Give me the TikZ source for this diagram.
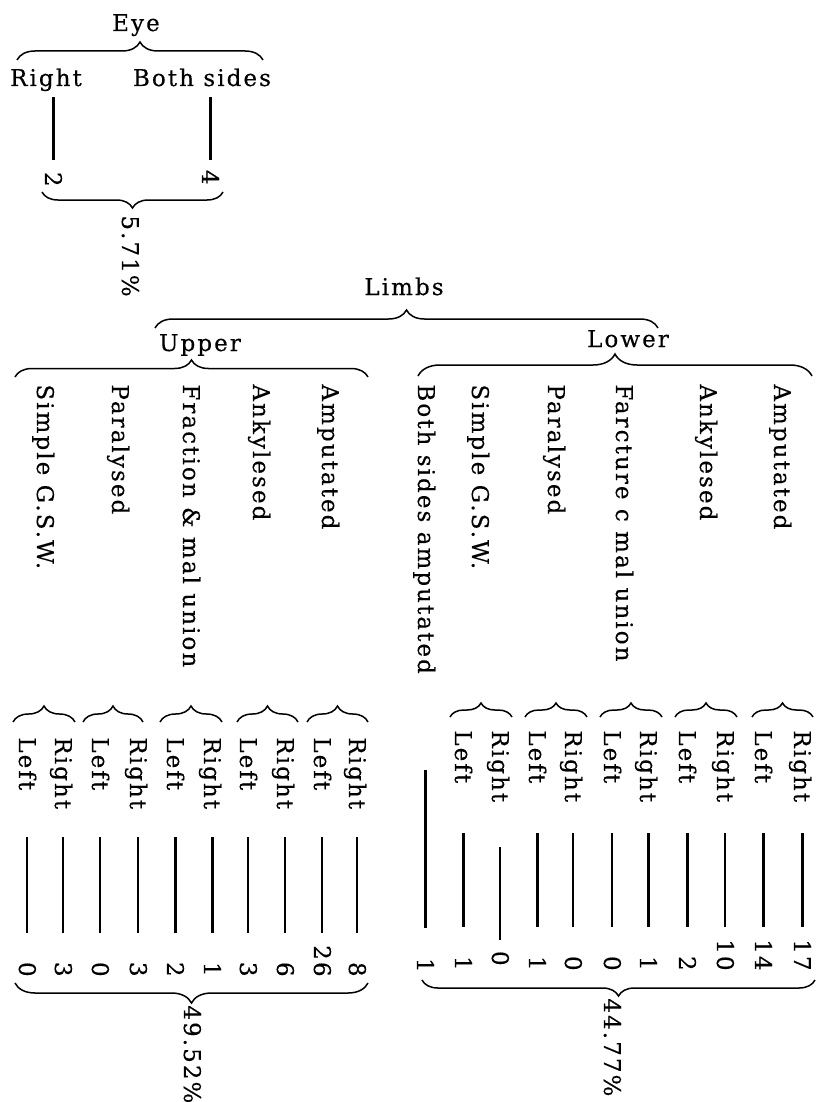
\documentclass[tikz,border=0pt]{standalone}
\usepackage{fontspec}
\setmainfont[LetterSpace=9, FakeBold=0.35]{DejaVu Serif}
\usetikzlibrary{decorations.pathreplacing}

\begin{document}
\begin{tikzpicture}[x=0.5pt, y=-0.5pt,
    every node/.style={font=\fontsize{11.5}{14}\selectfont},
    hlab/.style={anchor=base, inner sep=0pt},
    vlab/.style={rotate=-90, anchor=base west, inner sep=0pt},
    vnum/.style={rotate=-90, anchor=base east, inner sep=0pt},
    brc/.style={decorate, decoration={brace, amplitude=#1}, line width=0.75pt},
    stem/.style={line width=1.05pt}]
  \useasboundingbox (0,0) rectangle (819,1102);

  % eye
  \node[hlab] (eye) at (136,31) {Eye};
  \draw[brc=9pt] (17,60) -- (263,60);
  \node[hlab] (eyeR) at (46,86) {Right};
  \node[hlab] (eyeB) at (202,86) {Both sides};
  \node[vnum] (eyeN1) at (45,187) {2};
  \node[vnum] (eyeN2) at (202,185) {4};
  \coordinate (etop) at (0,97);
  \coordinate (ebot) at (0,160);
  \draw[stem] (eyeN1 |- etop) -- (eyeN1 |- ebot);
  \draw[stem] (eyeN2 |- etop) -- (eyeN2 |- ebot);
  \draw[brc=8pt] (223,192) -- (42,192);
  \node[vlab] (eyeP) at (122,215) {5.71\%};

  % limbs
  \node[hlab] (limbs) at (404,295) {Limbs};
  \draw[brc=9pt] (155,328) -- (658,328);
  \node[hlab] (upper) at (200,351) {Upper};
  \draw[brc=8.5pt] (15,377) -- (368,377);
  \node[hlab] (lower) at (628,347) {Lower};
  \draw[brc=11pt] (418,376) -- (812,376);

  % upper limb
  \node[vlab] (uSim) at (37,384) {Simple G.S.W.};
  \node[vlab] (uPar) at (112,384) {Paralysed};
  \node[vlab] (uFra) at (183,384) {Fraction \& mal union};
  \node[vlab] (uAnk) at (253,384) {Ankylesed};
  \node[vlab] (uAmp) at (322,384) {Amputated};
  \draw[brc=8pt] (13,722) -- (75,722);
  \draw[brc=8pt] (83,722) -- (143,722);
  \draw[brc=8pt] (160,722) -- (222,722);
  \draw[brc=8pt] (237,722) -- (298,722);
  \draw[brc=8pt] (307,722) -- (368,722);
  \node[vlab] (uL1) at (19,737) {Left};
  \node[vlab] (uR1) at (55,737) {Right};
  \node[vlab] (uL2) at (92,737) {Left};
  \node[vlab] (uR2) at (130,737) {Right};
  \node[vlab] (uL3) at (167,737) {Left};
  \node[vlab] (uR3) at (204,737) {Right};
  \node[vlab] (uL4) at (240,737) {Left};
  \node[vlab] (uR4) at (277,737) {Right};
  \node[vlab] (uL5) at (314,737) {Left};
  \node[vlab] (uR5) at (349,737) {Right};
  \node[vnum] (un1) at (19,977) {0};
  \node[vnum] (un2) at (55,977) {3};
  \node[vnum] (un3) at (92,977) {0};
  \node[vnum] (un4) at (130,977) {3};
  \node[vnum] (un5) at (167,977) {2};
  \node[vnum] (un6) at (204,977) {1};
  \node[vnum] (un7) at (240,977) {3};
  \node[vnum] (un8) at (277,977) {6};
  \node[vnum] (un9) at (314,977) {26};
  \node[vnum] (un10) at (349,977) {8};
  \coordinate (utop) at (0,837);
  \coordinate (ubot) at (0,933);
  \draw[stem] (un1 |- utop) -- (un1 |- ubot);
  \draw[stem] (un2 |- utop) -- (un2 |- ubot);
  \draw[stem] (un3 |- utop) -- (un3 |- ubot);
  \draw[stem] (un4 |- utop) -- (un4 |- ubot);
  \draw[stem] (un5 |- utop) -- (un5 |- ubot);
  \draw[stem] (un6 |- utop) -- (un6 |- ubot);
  \draw[stem] (un7 |- utop) -- (un7 |- ubot);
  \draw[stem] (un8 |- utop) -- (un8 |- ubot);
  \draw[stem] (un9 |- utop) -- (un9 |- ubot);
  \draw[stem] (un10 |- utop) -- (un10 |- ubot);
  \draw[brc=10pt] (368,983) -- (15,983);
  \node[vlab] (uP) at (184,1005) {49.52\%};

  % lower limb
  \node[vlab] (lBot) at (418,384) {Both sides amputated};
  \node[vlab] (lSim) at (472,384) {Simple G.S.W.};
  \node[vlab] (lPar) at (548,384) {Paralysed};
  \node[vlab] (lFar) at (616,384) {Farcture c mal union};
  \node[vlab] (lAnk) at (700,384) {Ankylesed};
  \node[vlab] (lAmp) at (774,384) {Amputated};
  \draw[brc=7pt] (450,717) -- (512,717);
  \draw[brc=7pt] (525,717) -- (587,717);
  \draw[brc=7pt] (600,717) -- (662,717);
  \draw[brc=7pt] (675,717) -- (737,717);
  \draw[brc=7pt] (752,717) -- (813,717);
  \node[vlab] (lL1) at (455,730) {Left};
  \node[vlab] (lR1) at (492,730) {Right};
  \node[vlab] (lL2) at (529,730) {Left};
  \node[vlab] (lR2) at (565,730) {Right};
  \node[vlab] (lL3) at (604,730) {Left};
  \node[vlab] (lR3) at (640,730) {Right};
  \node[vlab] (lL4) at (679,730) {Left};
  \node[vlab] (lR4) at (717,730) {Right};
  \node[vlab] (lL5) at (755,730) {Left};
  \node[vlab] (lR5) at (794,730) {Right};
  \node[vnum] (ln0) at (417,973) {1};
  \node[vnum] (ln1) at (455,971) {1};
  \node[vnum] (ln2) at (492,966) {0};
  \node[vnum] (ln3) at (529,971) {1};
  \node[vnum] (ln4) at (565,971) {0};
  \node[vnum] (ln5) at (604,971) {0};
  \node[vnum] (ln6) at (640,971) {1};
  \node[vnum] (ln7) at (679,971) {2};
  \node[vnum] (ln8) at (717,971) {10};
  \node[vnum] (ln9) at (755,971) {14};
  \node[vnum] (ln10) at (794,971) {17};
  \coordinate (ltop) at (0,833);
  \coordinate (lbot) at (0,927);
  \draw[stem] (ln0 |- 0,770) -- (ln0 |- 0,928);
  \draw[stem] (ln1 |- ltop) -- (ln1 |- lbot);
  \draw[stem] (ln2 |- 0,847) -- (ln2 |- 0,940);
  \draw[stem] (ln3 |- ltop) -- (ln3 |- lbot);
  \draw[stem] (ln4 |- ltop) -- (ln4 |- lbot);
  \draw[stem] (ln5 |- ltop) -- (ln5 |- lbot);
  \draw[stem] (ln6 |- ltop) -- (ln6 |- lbot);
  \draw[stem] (ln7 |- ltop) -- (ln7 |- lbot);
  \draw[stem] (ln8 |- ltop) -- (ln8 |- lbot);
  \draw[stem] (ln9 |- ltop) -- (ln9 |- lbot);
  \draw[stem] (ln10 |- ltop) -- (ln10 |- lbot);
  \draw[brc=8pt] (815,980) -- (422,980);
  \node[vlab] (lP) at (604,998) {44.77\%};
\end{tikzpicture}
\end{document}
